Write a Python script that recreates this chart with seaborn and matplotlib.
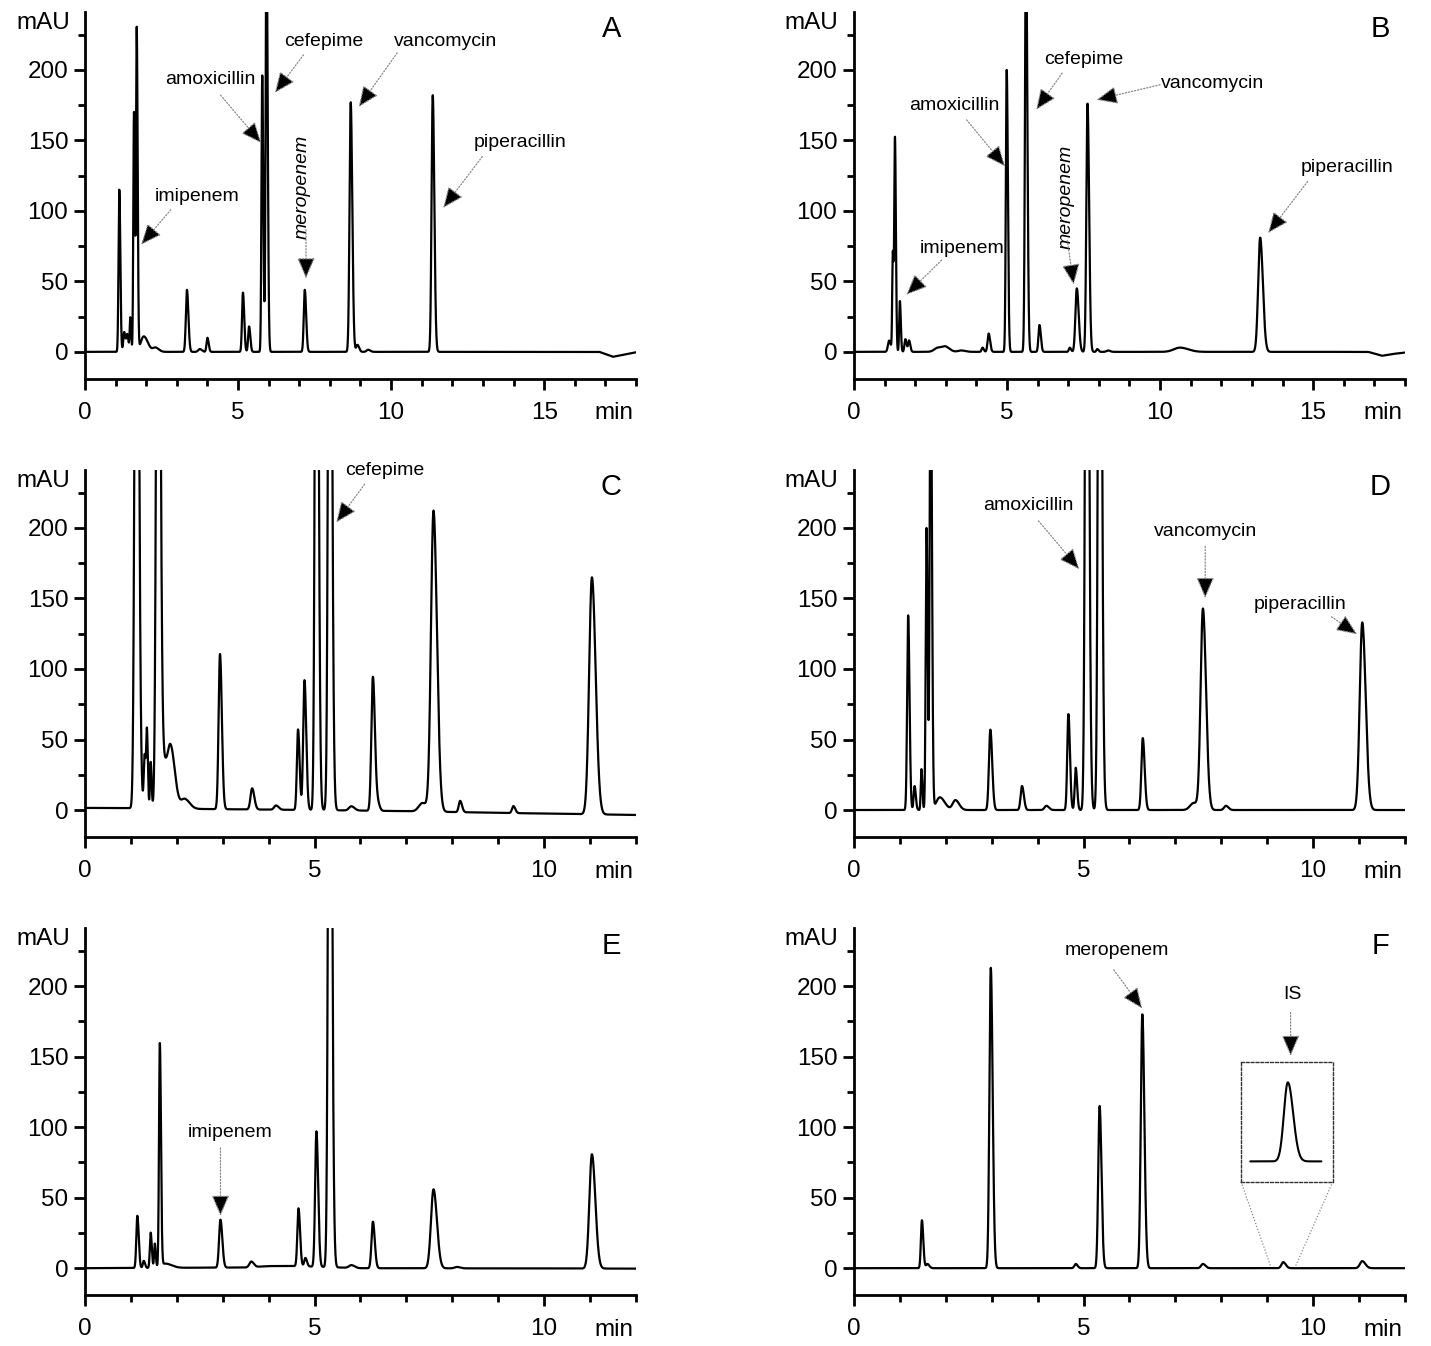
import numpy as np
import pandas as pd
import seaborn as sns
import matplotlib.pyplot as plt
from matplotlib.ticker import MultipleLocator

# Peak tables
# retention time (min), height (mAU), width (sigma, min)
a_rt = [1.12, 1.28, 1.38, 1.48, 1.60, 1.69, 1.92, 2.30, 3.33, 3.75, 4.00, 5.16, 5.36, 5.79, 5.93, 7.18, 8.68, 8.90, 9.25, 11.36]
a_h = [115, 14, 12, 24, 170, 228, 11, 3, 44, 2, 10, 42, 18, 196, 300, 44, 177, 5, 1.5, 182]
a_w = [0.025, 0.03, 0.03, 0.02, 0.022, 0.022, 0.1, 0.08, 0.035, 0.05, 0.03, 0.03, 0.03, 0.025, 0.028, 0.033, 0.038, 0.04, 0.05, 0.038]
a_base_t = [0, 16.8, 17.25, 17.6, 18]
a_base_v = [0, 0, -3.5, -2, -0.3]

b_rt = [1.15, 1.27, 1.34, 1.50, 1.68, 1.80, 2.75, 3.0, 3.5, 4.2, 4.40, 4.99, 5.62, 6.06, 7.05, 7.28, 7.63, 7.95, 8.3, 10.65, 13.27]
b_h = [8, 70, 150, 36, 9, 8, 3, 3, 1, 3, 13, 200, 300, 19, 3, 45, 176, 2, 1, 3, 81]
b_w = [0.04, 0.02, 0.022, 0.022, 0.03, 0.03, 0.12, 0.1, 0.1, 0.03, 0.035, 0.028, 0.032, 0.033, 0.03, 0.045, 0.038, 0.03, 0.05, 0.2, 0.065]
b_base_t = [0, 16.8, 17.25, 17.6, 18]
b_base_v = [0, 0, -2.8, -1.5, -0.5]

c_rt = [1.12, 1.30, 1.35, 1.43, 1.59, 1.72, 1.86, 2.17, 2.94, 3.64, 4.16, 4.64, 4.78, 5.04, 5.33, 5.80, 6.27, 6.38, 7.35, 7.59, 8.17, 9.33, 11.04]
c_h = [600, 38, 50, 33, 600, 25, 45, 7, 110, 15, 3, 57, 92, 600, 600, 3, 95, 5, 6, 213, 8, 5, 168]
c_w = [0.035, 0.02, 0.015, 0.015, 0.035, 0.04, 0.07, 0.08, 0.03, 0.035, 0.04, 0.025, 0.028, 0.03, 0.032, 0.05, 0.033, 0.03, 0.08, 0.055, 0.03, 0.03, 0.06]
c_base_t = [0, 1.0, 2.3, 5.0, 7.0, 9.0, 12.0]
c_base_v = [1.5, 1.3, 0.8, 0, -0.8, -2, -3.5]

d_rt = [1.18, 1.32, 1.47, 1.58, 1.67, 1.87, 2.21, 2.97, 3.66, 4.19, 4.67, 4.83, 5.07, 5.35, 6.29, 7.40, 7.60, 8.10, 11.07]
d_h = [138, 17, 29, 200, 350, 9, 7, 57, 17, 3, 68, 30, 600, 600, 51, 5, 142, 3, 133]
d_w = [0.022, 0.02, 0.015, 0.018, 0.02, 0.08, 0.06, 0.03, 0.03, 0.04, 0.025, 0.022, 0.032, 0.032, 0.03, 0.08, 0.05, 0.04, 0.055]
d_base_t = [0, 12]
d_base_v = [0, 0]

e_rt = [1.14, 1.28, 1.43, 1.52, 1.63, 1.75, 2.95, 3.62, 4.65, 4.80, 5.04, 5.33, 5.80, 6.27, 7.59, 8.10, 11.04]
e_h = [37, 5, 25, 17, 158, 3, 34, 4, 41, 6, 96, 600, 2, 33, 56, 1, 81]
e_w = [0.022, 0.02, 0.018, 0.015, 0.018, 0.1, 0.03, 0.04, 0.025, 0.025, 0.028, 0.032, 0.05, 0.03, 0.055, 0.05, 0.055]
e_base_t = [0, 3.5, 4.0, 4.6, 6.0, 12]
e_base_v = [0, 0.5, 1.5, 1.5, 0, -0.3]

f_rt = [1.48, 1.60, 2.98, 4.83, 5.35, 6.28, 7.60, 9.35, 11.07]
f_h = [34, 3, 213, 3, 115, 180, 3, 4.3, 5]
f_w = [0.022, 0.03, 0.03, 0.03, 0.03, 0.033, 0.04, 0.04, 0.05]
f_base_t = [0, 12]
f_base_v = [0, 0]

# labels: text, text pos, dotted line start, arrow tip (min, mAU), rotation
a_labels = [('imipenem', (3.65, 110), (2.80, 100.7), (1.83, 75.9), 0),
            ('amoxicillin', (4.08, 193), (4.43, 182), (5.76, 148), 0),
            ('cefepime', (7.8, 220), (7.14, 210.6), (6.2, 183.6), 0),
            ('meropenem', (7.1, 117), (7.22, 86.5), (7.22, 52), 90),
            ('vancomycin', (11.77, 220), (10.2, 212), (8.94, 173.6), 0),
            ('piperacillin', (14.2, 148.5), (12.98, 138.5), (11.7, 102), 0)]
b_labels = [('imipenem', (3.54, 73.5), (2.86, 65), (1.71, 40.4), 0),
            ('amoxicillin', (3.27, 175), (3.68, 164.5), (4.94, 131.4), 0),
            ('cefepime', (7.51, 207.6), (6.8, 197.6), (5.95, 171.6), 0),
            ('meropenem', (6.94, 110), (6.97, 79), (7.18, 47.5), 90),
            ('vancomycin', (11.7, 190.6), (10.0, 189.4), (7.92, 178.7), 0),
            ('piperacillin', (16.1, 130.7), (14.82, 120.8), (13.53, 84.2), 0)]
c_labels = [('cefepime', (6.52, 240.6), (6.09, 231), (5.47, 203.8), 0)]
d_labels = [('amoxicillin', (3.80, 215.7), (4.02, 205), (4.91, 170.6), 0),
            ('vancomycin', (7.65, 197.2), (7.65, 187), (7.65, 150.2), 0),
            ('piperacillin', (9.72, 146), (10.4, 137), (10.96, 124.6), 0)]
e_labels = [('imipenem', (3.15, 96), (2.95, 85.2), (2.95, 37), 0)]
f_labels = [('meropenem', (5.72, 225.6), (5.66, 211.5), (6.28, 184), 0),
            ('IS', (9.54, 194.3), (9.51, 181.3), (9.51, 150.4), 0)]

panels = [('A', a_rt, a_h, a_w, a_base_t, a_base_v, a_labels, 18),
          ('B', b_rt, b_h, b_w, b_base_t, b_base_v, b_labels, 18),
          ('C', c_rt, c_h, c_w, c_base_t, c_base_v, c_labels, 12),
          ('D', d_rt, d_h, d_w, d_base_t, d_base_v, d_labels, 12),
          ('E', e_rt, e_h, e_w, e_base_t, e_base_v, e_labels, 12),
          ('F', f_rt, f_h, f_w, f_base_t, f_base_v, f_labels, 12)]


def chromatogram(t, rt, h, w, base_t, base_v, tail=1.35):
    y = np.interp(t, base_t, base_v)
    for t0, hh, s in zip(rt, h, w):
        sd = np.where(t < t0, s, s * tail)
        y = y + hh * np.exp(-0.5 * ((t - t0) / sd) ** 2)
    return y


def plot_trace(ax, t, y, lw=1.6):
    df = pd.DataFrame({'min': t, 'mAU': y})
    sns.lineplot(data=df, x='min', y='mAU', ax=ax, color='black', linewidth=lw,
                 estimator=None, sort=False)
    ax.set_xlabel('')
    ax.set_ylabel('')


sns.set_style('ticks')
plt.rcParams['font.family'] = ['Liberation Sans', 'DejaVu Sans']
plt.rcParams.update({'text.color': 'black', 'axes.edgecolor': 'black',
                     'xtick.color': 'black', 'ytick.color': 'black',
                     'axes.labelcolor': 'black'})

fig, axs = plt.subplots(3, 2, figsize=(14.31, 13.46), dpi=100)
fig.subplots_adjust(left=0.0594, right=0.9818, top=0.9911, bottom=0.0379,
                    wspace=0.3956, hspace=0.2495)

arrow_style = '-|>,head_length=0.65,head_width=0.28'

for ax, (name, rt, h, w, bt, bv, labels, tmax) in zip(axs.flat, panels):
    t = np.linspace(0, tmax, 8000)
    y = chromatogram(t, rt, h, w, bt, bv)
    plot_trace(ax, t, y)

    ax.set_xlim(0, tmax)
    ax.set_ylim(-19, 241)
    ax.set_yticks([0, 50, 100, 150, 200])
    ax.set_xticks(list(range(0, tmax, 5)))
    ax.xaxis.set_minor_locator(MultipleLocator(1))
    ax.yaxis.set_minor_locator(MultipleLocator(25))
    sns.despine(ax=ax)
    for sp in ['left', 'bottom']:
        ax.spines[sp].set_linewidth(2)
    ax.tick_params(which='major', length=8, width=2, labelsize=17.5, color='black')
    ax.tick_params(which='minor', length=5, width=2, color='black')
    ax.tick_params(axis='x', which='major', pad=8.5)
    ax.tick_params(axis='y', which='major', pad=4)

    ax.annotate('mAU', xy=(0, 1), xycoords='axes fraction', xytext=(-11, -8),
                textcoords='offset points', ha='right', va='center', fontsize=17.5)
    ax.annotate('min', xy=(0.96, 0), xycoords='axes fraction', xytext=(0, -25),
                textcoords='offset points', ha='center', va='center', fontsize=17.5)
    ax.text(0.955, 0.953, name, transform=ax.transAxes, ha='center', va='center', fontsize=21)

    for text, pos, start, tip, rot in labels:
        ax.text(pos[0], pos[1], text, ha='center', va='center', fontsize=14,
                rotation=rot, style='italic' if rot else 'normal', clip_on=False)
        ax.annotate('', xy=tip, xytext=start, annotation_clip=False,
                    arrowprops=dict(arrowstyle=arrow_style, mutation_scale=20, lw=0.9,
                                    ls=(0, (1, 1.5)), ec='#888888', fc='black',
                                    shrinkA=0, shrinkB=0))

# zoomed view of the internal standard in panel F
ax_f = axs[2, 1]
inset_box = [8.43, 61.4, 2.0, 84.7]
ins = ax_f.inset_axes(inset_box, transform=ax_f.transData)
t_is = np.linspace(8.97, 9.69, 600)
y_is = chromatogram(t_is, f_rt, f_h, f_w, f_base_t, f_base_v)
plot_trace(ins, t_is, y_is, lw=1.5)
ins.set_xlim(8.876, 9.806)
ins.set_ylim(-1.1, 5.4)
ins.set_xticks([])
ins.set_yticks([])
for sp in ins.spines.values():
    sp.set_visible(True)
    sp.set_linestyle((0, (2, 1.5)))
    sp.set_linewidth(1)
    sp.set_edgecolor('#333333')
x0, y0 = inset_box[0], inset_box[1]
x1 = inset_box[0] + inset_box[2]
ax_f.plot([x0, 9.08], [y0, 0.9], ls=(0, (1, 1.5)), lw=0.9, color='#888888')
ax_f.plot([x1, 9.61], [y0, 0.9], ls=(0, (1, 1.5)), lw=0.9, color='#888888')

plt.savefig('out.png', dpi=100)
